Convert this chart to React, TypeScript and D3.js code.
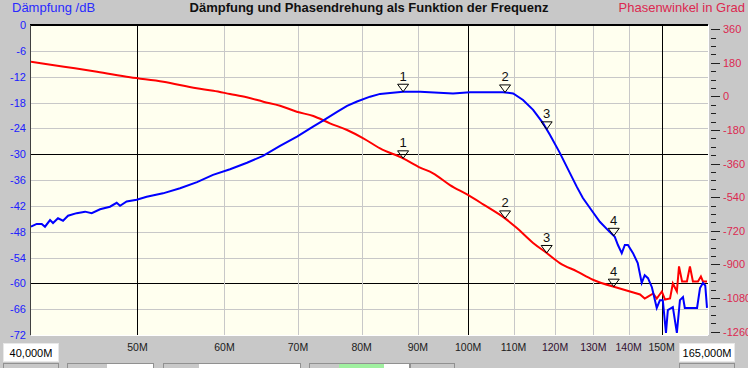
// Externals
import * as d3 from 'd3'
import React, { useRef, useEffect } from 'react'

// Attenuation curve (blue), frequency in MHz / dB
const freqBlue = [
  40.0, 40.48, 40.91, 41.19, 41.63, 41.89, 42.33, 42.78, 43.23, 44.02, 44.8, 45.43, 46.23, 47.2, 47.87, 48.21, 48.88,
  49.92, 50.98, 52.75, 54.67, 56.65, 58.58, 60.71, 62.91, 65.06, 67.42, 69.86, 72.25, 73.78, 75.98, 77.59, 79.23,
  81.42, 83.15, 84.9, 87.26, 90.42, 96.89, 100.4, 107.6, 109.9, 112.2, 114.6, 117.0, 118.7, 121.2, 123.8, 125.6, 127.2,
  129.1, 131.8, 134.6, 136.0, 136.9, 138.0, 138.9, 139.8, 141.3, 142.7, 143.9, 144.8, 145.8, 147.0, 148.5, 149.5,
  150.4, 151.4, 152.0, 153.6, 154.9, 155.9, 156.9, 157.5, 161.6, 162.6, 163.6, 164.4, 165.0,
]
const dampDb = [
  -46.85, -46.2, -46.2, -46.85, -45.3, -46.0, -44.9, -45.45, -44.3, -43.7, -43.35, -43.7, -42.8, -42.2, -41.3, -42.0, -41.0,
  -40.6, -39.9, -39.1, -37.9, -36.5, -34.8, -33.5, -32.0, -30.4, -28.1, -25.9, -23.6, -22.2, -20.2, -18.8, -17.77,
  -16.65, -16.0, -15.8, -15.5, -15.5, -15.9, -15.6, -15.6, -15.9, -17.4, -19.7, -22.8, -25.5, -29.7, -34.4, -37.6, -40.2,
  -42.5, -45.7, -48.1, -49.2, -51.1, -53.0, -51.1, -51.1, -53.0, -55.3, -59.9, -58.1, -58.8, -60.9, -65.7, -63.9,
  -63.9, -71.5, -66.2, -65.5, -71.5, -63.9, -63.2, -65.7, -65.7, -61.1, -59.9, -60.5, -65.7,
]

// Phase curve (red), frequency in MHz / degrees
const freqRed = [
  40.0, 42.87, 45.94, 49.23, 52.79, 56.61, 58.62, 60.71, 62.87, 65.1, 67.42, 69.82, 72.29, 74.85, 77.59, 80.28, 83.15,
  87.26, 90.42, 92.92, 96.27, 99.97, 103.2, 108.05, 110.7, 114.6, 117.9, 121.2, 125.6, 129.9, 135.5,
  140.4, 143.4, 144.8, 145.8, 147.4, 148.5, 150.1, 151.1, 152.7, 153.6, 154.9, 155.6, 156.6, 158.2, 159.2, 160.2,
  161.9, 162.9, 163.6, 165.0,
]
const phaseDeg = [
  186.3, 159.5, 132.7, 102.7, 79.1, 43.7, 30.8, 13.1, -4.6, -28.1, -49.6, -81.8, -104.8, -143.9, -179.9, -224.4, -278.0,
  -331.6, -381.0, -412.0, -475.0, -528.0, -578.2, -653.7, -704.4, -785.2, -839.1, -893.0, -937.7, -982.4, -1018.5,
  -1045.5, -1061.7, -1083.2, -1072.5, -1056.3, -1083.2, -1045.5, -1088.6, -1083.2, -1002.4, -1045.5, -910.7, -991.5, -991.5, -910.7, -991.5,
  -991.5, -964.6, -991.5, -991.5,
]
// the red curve is smooth up to this index, noisy afterwards
const redSmoothEnd = 30

const dbTicks = [0, -6, -12, -18, -24, -30, -36, -42, -48, -54, -60, -66, -72]
const dbMajor = [-30, -60]
const phaseTicks = [360, 180, 0, -180, -360, -540, -720, -900, -1080, -1260]
const freqTicks = [50, 60, 70, 80, 90, 100, 110, 120, 130, 140, 150]
const freqMajor = [50, 100, 150]
const markerFreqs = [87.26, 108.05, 117.9, 135.7]
const markerLabels = ['1', '2', '3', '4']

const W = 748
const H = 368
const FONT = '"Liberation Sans", Arial, sans-serif'

const Chart = () => {
  const ref = useRef<SVGSVGElement | null>(null)

  useEffect(() => {
    const svg = d3.select(ref.current)
    svg.selectAll('*').remove()

    const left = 31
    const right = 708
    const top = 25
    const bottom = 335

    const x = d3.scaleLog().domain([40, 165]).range([left, 707])
    const yDb = d3.scaleLinear().domain([-72, 0]).range([bottom, top])
    const yPh = d3.scaleLinear().domain([-1260, 360]).range([331.5, 29.3])

    // Window background
    svg.append('rect').attr('width', W).attr('height', H).attr('fill', '#c8c8c8')

    // Plot background
    svg.append('rect')
      .attr('x', left).attr('y', top)
      .attr('width', right - left).attr('height', bottom - top)
      .attr('fill', '#ffffef')

    const grid = svg.append('g').attr('shape-rendering', 'crispEdges')

    // Horizontal grid (dB)
    dbTicks.slice(1, -1).forEach(d => {
      const y = Math.round(yDb(d)) + 0.5
      grid.append('line')
        .attr('x1', left).attr('x2', right).attr('y1', y).attr('y2', y)
        .attr('stroke', dbMajor.includes(d) ? '#000' : '#c8c8c8')
    })

    // Vertical grid (frequency)
    freqTicks.forEach(f => {
      const xx = Math.round(x(f)) + 0.5
      grid.append('line')
        .attr('x1', xx).attr('x2', xx).attr('y1', top).attr('y2', bottom)
        .attr('stroke', freqMajor.includes(f) ? '#000' : '#c8c8c8')
    })

    // Sunken frame
    grid.append('line').attr('x1', left - 1).attr('x2', right).attr('y1', top).attr('y2', top)
      .attr('stroke', '#000').attr('stroke-width', 2)
    grid.append('line').attr('x1', left - 0.5).attr('x2', left - 0.5).attr('y1', top).attr('y2', bottom)
      .attr('stroke', '#404040')
    grid.append('line').attr('x1', left).attr('x2', right).attr('y1', bottom + 0.5).attr('y2', bottom + 0.5)
      .attr('stroke', '#fff')
    grid.append('line').attr('x1', right + 0.5).attr('x2', right + 0.5).attr('y1', top).attr('y2', bottom)
      .attr('stroke', '#fff')

    // Clip for curves
    svg.append('clipPath').attr('id', 'plot-clip')
      .append('rect').attr('x', left).attr('y', top).attr('width', right - left).attr('height', bottom - top)

    const blueLine = d3.line<number>().x((d, i) => x(freqBlue[i])).y(d => yDb(d))
    const redPts = freqRed.map((f, i) => [x(f), yPh(phaseDeg[i])] as [number, number])
    const smoothLine = d3.line().curve(d3.curveMonotoneX)
    const rawLine = d3.line()

    const curves = svg.append('g').attr('clip-path', 'url(#plot-clip)')
    curves.append('path').attr('d', smoothLine(redPts.slice(0, redSmoothEnd + 1)))
      .attr('fill', 'none').attr('stroke', '#ff0000').attr('stroke-width', 2)
    curves.append('path').attr('d', rawLine(redPts.slice(redSmoothEnd)))
      .attr('fill', 'none').attr('stroke', '#ff0000').attr('stroke-width', 2)
    curves.append('path').attr('d', blueLine(dampDb))
      .attr('fill', 'none').attr('stroke', '#0000ff').attr('stroke-width', 2)

    // Markers on both curves
    const interp = (fs: number[], vs: number[], f: number) => {
      const i = Math.max(1, Math.min(fs.length - 1, d3.bisectLeft(fs, f)))
      const t = (Math.log(f) - Math.log(fs[i - 1])) / (Math.log(fs[i]) - Math.log(fs[i - 1]))
      return vs[i - 1] + t * (vs[i] - vs[i - 1])
    }
    const drawMarker = (mx: number, my: number, label: string) => {
      svg.append('path')
        .attr('d', `M${mx - 5.5},${my - 7.5}L${mx + 5.5},${my - 7.5}L${mx},${my}Z`)
        .attr('fill', 'none').attr('stroke', '#000').attr('stroke-width', 1)
      svg.append('text')
        .attr('x', mx).attr('y', my - 11)
        .attr('text-anchor', 'middle')
        .style('font', `13px ${FONT}`)
        .attr('fill', '#101010')
        .text(label)
    }
    markerFreqs.forEach((f, i) => {
      drawMarker(x(f), yDb(interp(freqBlue, dampDb, f)), markerLabels[i])
      drawMarker(x(f), yPh(interp(freqRed, phaseDeg, f)), markerLabels[i])
    })

    // Left axis labels
    dbTicks.forEach(d => {
      svg.append('text')
        .attr('x', 26).attr('y', yDb(d))
        .attr('text-anchor', 'end').attr('dominant-baseline', 'central')
        .style('font', `11px ${FONT}`)
        .attr('fill', '#2020ff')
        .text(d)
    })

    // Right axis ticks and labels
    const axisG = svg.append('g').attr('shape-rendering', 'crispEdges')
    d3.range(-1260, 361, 45).forEach(p => {
      const y = Math.round(yPh(p)) + 0.5
      const major = p % 180 === 0
      axisG.append('line')
        .attr('x1', 711).attr('x2', major ? 720 : 716).attr('y1', y).attr('y2', y)
        .attr('stroke', '#202020')
    })
    phaseTicks.forEach(p => {
      svg.append('text')
        .attr('x', 723).attr('y', yPh(p))
        .attr('dominant-baseline', 'central')
        .style('font', `11px ${FONT}`)
        .attr('fill', '#dc2850')
        .text(p)
    })

    // Frequency labels
    freqTicks.forEach(f => {
      svg.append('text')
        .attr('x', x(f)).attr('y', 351)
        .attr('text-anchor', 'middle')
        .style('font', `10.5px ${FONT}`)
        .attr('fill', f >= 120 && f <= 140 ? '#301030' : '#202020')
        .text(`${f}M`)
    })

    // Start / stop frequency boxes
    const box = (bx: number, bw: number, label: string) => {
      svg.append('rect').attr('x', bx + 0.5).attr('y', 343.5).attr('width', bw).attr('height', 18)
        .attr('fill', '#fff').attr('stroke', '#e8e8e8')
      svg.append('text')
        .attr('x', bx + bw / 2 + 0.5).attr('y', 357)
        .attr('text-anchor', 'middle')
        .style('font', `11px ${FONT}`)
        .attr('fill', '#000')
        .text(label)
    }
    box(3, 55, '40,000M')
    box(679, 55, '165,000M')

    // Partly visible controls at the very bottom
    const ctl = svg.append('g').attr('shape-rendering', 'crispEdges')
    const ctlBoxes = [[3, 55], [67, 86], [163, 137], [309, 100], [410, 44], [679, 55]]
    ctlBoxes.forEach(([bx, bw]) => {
      ctl.append('rect').attr('x', bx + 0.5).attr('y', 363.5).attr('width', bw).attr('height', 10)
        .attr('fill', '#c8c8c8').attr('stroke', '#909090')
    })
    ctl.append('rect').attr('x', 107).attr('y', 364).attr('width', 46).attr('height', 6).attr('fill', '#fff')
    ctl.append('rect').attr('x', 199).attr('y', 364).attr('width', 101).attr('height', 6).attr('fill', '#fff')
    ctl.append('rect').attr('x', 339).attr('y', 364).attr('width', 45).attr('height', 6).attr('fill', '#a0f0a0')
    ctl.append('rect').attr('x', 384).attr('y', 364).attr('width', 25).attr('height', 6).attr('fill', '#fff')

    // Titles
    svg.append('text')
      .attr('x', 12).attr('y', 12)
      .style('font', `13px ${FONT}`)
      .attr('fill', '#2a2aff')
      .text('Dämpfung /dB')
    svg.append('text')
      .attr('x', 369).attr('y', 12)
      .attr('text-anchor', 'middle')
      .style('font', `bold 13px ${FONT}`)
      .attr('fill', '#101010')
      .text('Dämpfung und Phasendrehung als Funktion der Frequenz')
    svg.append('text')
      .attr('x', 745).attr('y', 12)
      .attr('text-anchor', 'end')
      .style('font', `13px ${FONT}`)
      .attr('fill', '#dc2850')
      .text('Phasenwinkel in Grad')
  }, [])

  return <svg ref={ref} width={W} height={H} style={{ position: 'absolute', left: 0, top: 0, display: 'block' }} />
}

const App = () => <Chart />

export default App
